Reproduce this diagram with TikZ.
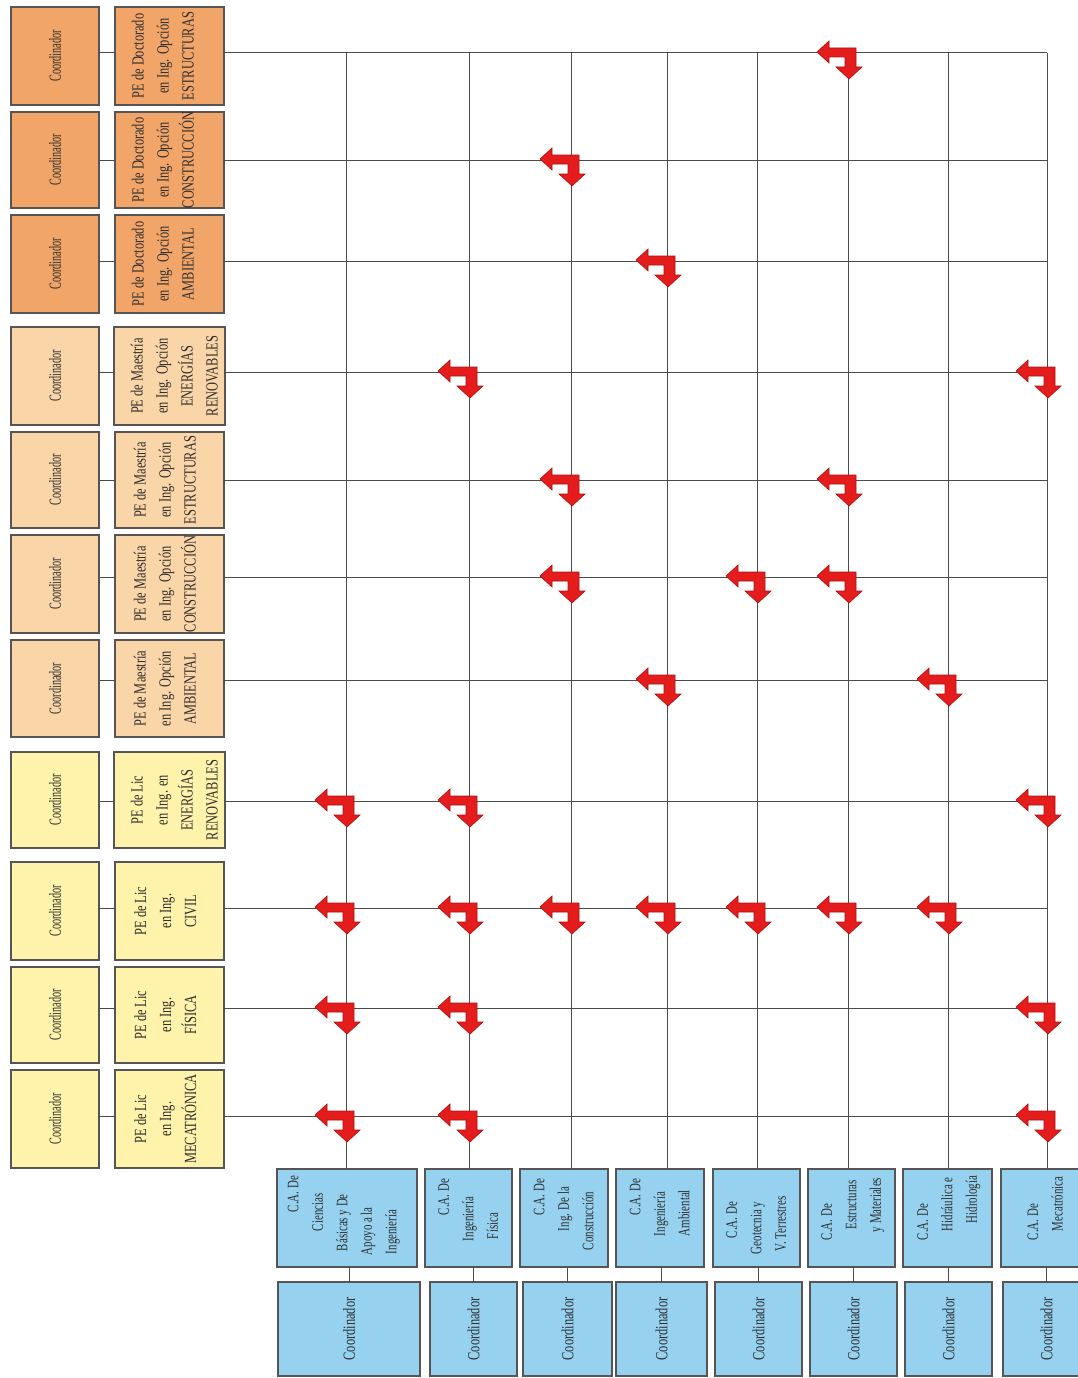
\documentclass[tikz,border=0pt]{standalone}
\usepackage{fontspec}
\setmainfont{Liberation Serif}
\newfontfamily\progfont[FakeStretch=0.73]{Liberation Serif}
\newfontfamily\coordfont[FakeStretch=0.6]{Liberation Serif}
\newfontfamily\cafont[FakeStretch=0.68]{Liberation Serif}
\usetikzlibrary{calc}

\definecolor{docor}{RGB}{242,165,105}
\definecolor{maes}{RGB}{250,213,168}
\definecolor{licy}{RGB}{255,242,170}
\definecolor{cablue}{RGB}{150,210,240}
\definecolor{edgec}{RGB}{85,85,85}
\definecolor{gridc}{RGB}{75,75,75}
\definecolor{arrowred}{RGB}{228,28,28}
\definecolor{arrowdark}{RGB}{175,15,15}
\definecolor{txt}{RGB}{45,45,45}

\tikzset{
  boxbase/.style={draw=edgec, line width=1.2pt, inner sep=0pt, outer sep=0pt, text=txt},
  docbox/.style={boxbase, fill=docor},
  maesbox/.style={boxbase, fill=maes},
  licbox/.style={boxbase, fill=licy},
  cabox/.style={boxbase, fill=cablue},
  gridline/.style={draw=gridc, line width=1pt},
  bentarrow/.style={fill=arrowred, draw=arrowdark, line width=0.6pt, line join=miter},
}

% name, style, x1, y1, x2, y2, content
\newcommand\mkbox[7]{\node[#2, minimum width={(#5-#3)*1pt}, minimum height={(#6-#4)*1pt}] (#1) at ({(#3+#5)/2},{(#4+#6)/2}) {#7};}
% program text: leading space, trailing space, lines
\newcommand\ptxt[3]{\hspace*{#1pt}\rotatebox{90}{\makebox[0pt]{\progfont\fontsize{17}{25}\selectfont\begin{tabular}{@{}c@{}}#3\end{tabular}}}\hspace*{#2pt}}
\newcommand\ktxt{\rotatebox{90}{\makebox[0pt]{\coordfont\fontsize{17}{20}\selectfont Coordinador}}}
\newcommand\bktxt{\rotatebox{90}{\makebox[0pt]{\progfont\fontsize{17}{20}\selectfont Coordinador}}}
\newcommand\catxt[2]{\rotatebox{90}{\makebox[0pt]{\cafont\fontsize{16}{24.5}\selectfont\begin{tabular}{@{}l@{}}#2\end{tabular}}}\hspace*{#1pt}}
\newcommand\cl[2]{\makebox[98pt][l]{\hspace*{#1pt}#2}}
\newcommand\bent[1]{\filldraw[bentarrow, shift={(#1)}] (-31,-1) -- (-19,-12) -- (-19,-5) -- (8,-5) -- (8,14) -- (14,14) -- (1,26) -- (-12,14) -- (-3,14) -- (-3,4) -- (-19,4) -- (-19,10) -- cycle;}

\begin{document}
\begin{tikzpicture}[x=1pt,y=-1pt]
\useasboundingbox (0,0) rectangle (1078,1378);
\clip (0,0) rectangle (1078,1378);
\fill[white] (0,0) rectangle (1078,1378);

% row and column coordinates
\foreach \n/\y in {1/53,2/160,3/261,4/372,5/480,6/577,7/680,8/801,9/908,10/1008,11/1116}
  \coordinate (r\n) at (0,\y);
\foreach \n/\x in {1/346,2/469,3/571,4/667,5/757,6/848,7/948,8/1047}
  \coordinate (c\n) at (\x,0);

% left coordinator boxes
\mkbox{k1}{docbox}{11}{7}{99}{105}{\ktxt}
\mkbox{k2}{docbox}{11}{112}{99}{208}{\ktxt}
\mkbox{k3}{docbox}{11}{215}{99}{313}{\ktxt}
\mkbox{k4}{maesbox}{11}{327}{99}{425}{\ktxt}
\mkbox{k5}{maesbox}{11}{432}{99}{528}{\ktxt}
\mkbox{k6}{maesbox}{11}{535}{99}{633}{\ktxt}
\mkbox{k7}{maesbox}{11}{640}{99}{737}{\ktxt}
\mkbox{k8}{licbox}{11}{752}{99}{848}{\ktxt}
\mkbox{k9}{licbox}{11}{862}{99}{960}{\ktxt}
\mkbox{k10}{licbox}{11}{967}{99}{1063}{\ktxt}
\mkbox{k11}{licbox}{11}{1070}{99}{1168}{\ktxt}

% program boxes
\mkbox{p1}{docbox}{115}{7}{224}{105}{\ptxt{0}{12}{PE de Doctorado\\en Ing. Opción\\ESTRUCTURAS}}
\mkbox{p2}{docbox}{115}{112}{224}{208}{\ptxt{0}{12}{PE de Doctorado\\en Ing. Opción\\CONSTRUCCIÓN}}
\mkbox{p3}{docbox}{115}{215}{224}{313}{\ptxt{0}{12}{PE de Doctorado\\en Ing. Opción\\AMBIENTAL}}
\mkbox{p4}{maesbox}{115}{327}{224}{425}{\ptxt{11}{0}{PE de Maestría\\en Ing. Opción\\ENERGÍAS\\RENOVABLES}}
\mkbox{p5}{maesbox}{115}{432}{224}{528}{\ptxt{0}{8}{PE de Maestría\\en Ing. Opción\\ESTRUCTURAS}}
\mkbox{p6}{maesbox}{115}{535}{224}{633}{\ptxt{0}{8}{PE de Maestría\\en Ing. Opción\\CONSTRUCCIÓN}}
\mkbox{p7}{maesbox}{115}{640}{224}{737}{\ptxt{0}{8}{PE de Maestría\\en Ing. Opción\\AMBIENTAL}}
\mkbox{p8}{licbox}{115}{752}{224}{848}{\ptxt{11}{0}{PE de Lic\\en Ing. en\\ENERGÍAS\\RENOVABLES}}
\mkbox{p9}{licbox}{115}{862}{224}{960}{\ptxt{0}{7}{PE de Lic\\en Ing.\\CIVIL}}
\mkbox{p10}{licbox}{115}{967}{224}{1063}{\ptxt{0}{7}{PE de Lic\\en Ing.\\FÍSICA}}
\mkbox{p11}{licbox}{115}{1070}{224}{1168}{\ptxt{0}{7}{PE de Lic\\en Ing.\\MECATRÓNICA}}

% C.A. boxes
\mkbox{ca1}{cabox}{277}{1169}{417}{1267}{\catxt{9}{\cl{55}{C.A. De}\\\cl{36}{Ciencias}\\\cl{16}{Básicas y De}\\\cl{12}{Apoyo a la}\\\cl{13}{Ingeniería}}}
\mkbox{ca2}{cabox}{425}{1169}{512}{1267}{\catxt{0}{\cl{52}{C.A. De}\\\cl{26}{Ingeniería}\\\cl{28}{Física}}}
\mkbox{ca3}{cabox}{520}{1169}{608}{1267}{\catxt{0}{\cl{52}{C.A. De}\\\cl{36}{Ing. De la}\\\cl{17}{Construcción}}}
\mkbox{ca4}{cabox}{616}{1169}{704}{1267}{\catxt{0}{\cl{52}{C.A. De}\\\cl{31}{Ingeniería}\\\cl{31}{Ambiental}}}
\mkbox{ca5}{cabox}{713}{1169}{800}{1267}{\catxt{0}{\cl{29}{C.A. De}\\\cl{13}{Geotecnia y}\\\cl{16}{V. Terrestres}}}
\mkbox{ca6}{cabox}{808}{1169}{895}{1267}{\catxt{0}{\cl{27}{C.A. De}\\\cl{38}{Estructuras}\\\cl{35}{y Materiales}}}
\mkbox{ca7}{cabox}{903}{1169}{992}{1267}{\catxt{0}{\cl{27}{C.A. De}\\\cl{36}{Hidráulica e}\\\cl{44}{Hidrología}}}
\mkbox{ca8}{cabox}{1001}{1169}{1090}{1267}{\catxt{0}{\cl{27}{C.A. De}\\\cl{36}{Mecatrónica}}}

% bottom coordinator boxes
\mkbox{bk1}{cabox}{278}{1282}{420}{1376}{\bktxt}
\mkbox{bk2}{cabox}{430}{1282}{517}{1376}{\bktxt}
\mkbox{bk3}{cabox}{523}{1282}{612}{1376}{\bktxt}
\mkbox{bk4}{cabox}{616}{1282}{707}{1376}{\bktxt}
\mkbox{bk5}{cabox}{715}{1282}{802}{1376}{\bktxt}
\mkbox{bk6}{cabox}{810}{1282}{897}{1376}{\bktxt}
\mkbox{bk7}{cabox}{905}{1282}{992}{1376}{\bktxt}
\mkbox{bk8}{cabox}{1003}{1282}{1090}{1376}{\bktxt}

% connectors: coordinator -> program, program -> grid
\foreach \n in {1,...,11} {
  \draw[gridline] (k\n.east |- r\n) -- (p\n.west |- r\n);
  \draw[gridline] (p\n.east |- r\n) -- (c8 |- r\n);
}
% vertical grid lines down to C.A. boxes, and C.A. -> coordinator
\foreach \n in {1,...,8} {
  \draw[gridline] (c\n |- r1) -- (ca\n.north -| c\n);
  \draw[gridline] (ca\n.south -| bk\n.north) -- (bk\n.north);
}

% bent arrows at the intersections
\foreach \r/\c in {r1/c6, r2/c3, r3/c4, r4/c2, r4/c8, r5/c3, r5/c6,
  r6/c3, r6/c5, r6/c6, r7/c4, r7/c7, r8/c1, r8/c2, r8/c8,
  r9/c1, r9/c2, r9/c3, r9/c4, r9/c5, r9/c6, r9/c7,
  r10/c1, r10/c2, r10/c8, r11/c1, r11/c2, r11/c8}
  \bent{\c |- \r};
\end{tikzpicture}
\end{document}
